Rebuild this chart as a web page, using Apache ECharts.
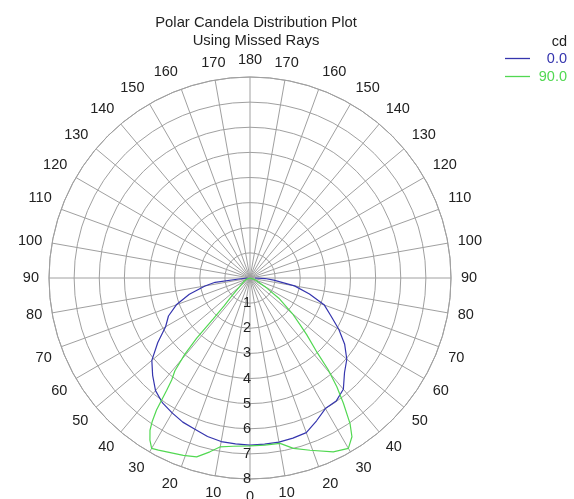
<!DOCTYPE html>
<html>
<head>
<meta charset="utf-8">
<script src="https://cdn.jsdelivr.net/npm/echarts@6/dist/echarts.min.js"></script>
<style>
  html, body { margin: 0; padding: 0; background: #fff; }
  #chart { width: 574px; height: 499px; }
</style>
</head>
<body>
<div id="chart"></div>
<script>
// Candela values (cd) against vertical angle gamma (deg, 0 = straight down)
// C0 / C180 plane ("0.0")
const gammaC0Left  = [90, 85, 83, 80, 75, 70, 65, 60, 55, 50, 45, 40, 35, 30, 25, 20, 15, 10, 5, 0];
const cdC0Left     = [0.1, 0.45, 1.4, 1.82, 2.5, 3.12, 3.58, 3.88, 4.48, 5.1, 5.48, 5.85, 6.07, 6.2, 6.33, 6.41, 6.53, 6.61, 6.63, 6.65];
const gammaC0Right = [0, 5, 10, 15, 20, 25, 30, 35, 40, 45, 50, 55, 60, 65, 70, 75, 80, 85, 88, 90];
const cdC0Right    = [6.65, 6.64, 6.63, 6.6, 6.55, 6.27, 6.0, 5.98, 5.78, 5.32, 5.03, 4.6, 4.08, 3.55, 3.15, 2.45, 1.8, 0.95, 0.6, 0.2];

// C90 / C270 plane ("90.0")
const gammaC90Left  = [90, 70, 60, 50, 45, 43, 42, 41.5, 40.5, 39, 37.5, 36.6, 35.3, 34.3, 33.3, 31.7, 30, 28, 25.6, 20.6, 16.6, 13, 10.1, 5.7, 0];
const cdC90Left     = [0, 0.15, 0.3, 0.55, 1.1, 1.5, 2.2, 3.2, 4.0, 4.75, 5.12, 5.56, 6.44, 6.9, 7.25, 7.58, 7.83, 7.76, 7.67, 7.54, 7.43, 7.1, 6.83, 6.73, 6.68];
const gammaC90Right = [0, 5, 10.3, 14.3, 19.2, 25.6, 30, 32.7, 34.5, 36.7, 38.6, 40.4, 42, 45, 47, 50, 55, 59, 70, 90];
const cdC90Right    = [6.68, 6.68, 6.69, 7.0, 7.26, 7.67, 7.83, 7.51, 7.03, 6.22, 5.54, 4.81, 4.0, 3.19, 2.72, 2.2, 1.4, 0.78, 0.25, 0];

// Ticks
const radiusTicks = [0, 1, 2, 3, 4, 5, 6, 7, 8];
const angleStep = 10;
const seriesNames = ['0.0', '90.0'];
const seriesColors = ['#3535ae', '#52d852'];

// Left half sits on angles 0..180 (clockwise from the bottom), right half on 360..180
function buildCurve(gL, vL, gR, vR) {
  const pts = [];
  for (let i = 0; i < gL.length; i++) pts.push([vL[i], gL[i]]);
  for (let i = 0; i < gR.length; i++) {
    if (gR[i] === 0) continue;
    pts.push([vR[i], 360 - gR[i]]);
  }
  return pts;
}

const curveC0 = buildCurve(gammaC0Left, cdC0Left, gammaC0Right, cdC0Right);
const curveC90 = buildCurve(gammaC90Left, cdC90Left, gammaC90Right, cdC90Right);

const gridColor = '#a0a0a0';
const font = 'Liberation Sans, Arial, sans-serif';

const chart = echarts.init(document.getElementById('chart'), null, { renderer: 'canvas' });
chart.setOption({
  animation: false,
  backgroundColor: '#fff',
  title: [
    {
      text: 'Polar Candela Distribution Plot\nUsing Missed Rays',
      left: 251, top: 9, textAlign: 'center',
      textStyle: { fontSize: 14.8, fontWeight: 'normal', color: '#222', fontFamily: font, lineHeight: 18 }
    },
    {
      text: 'cd',
      right: 2, top: 29,
      textStyle: { fontSize: 14.5, fontWeight: 'normal', color: '#222', fontFamily: font }
    }
  ],
  legend: {
    orient: 'vertical',
    right: 2, top: 46,
    icon: 'rect',
    itemWidth: 25, itemHeight: 1.3, itemGap: 3,
    data: seriesNames.map((n, i) => ({
      name: n,
      itemStyle: { color: seriesColors[i] },
      textStyle: { color: seriesColors[i] }
    })),
    formatter: name => '{r|' + name + '}',
    textStyle: {
      fontSize: 14.5, fontFamily: font,
      rich: { r: { width: 32, align: 'right', fontSize: 14.5, fontFamily: font, height: 14 } }
    }
  },
  polar: { center: [250, 278], radius: 201 },
  angleAxis: {
    type: 'value', min: 0, max: 360, interval: angleStep,
    startAngle: 270, clockwise: true,
    axisLine: { show: true, lineStyle: { color: gridColor, width: 1 } },
    axisTick: { show: false },
    splitLine: { show: true, lineStyle: { color: gridColor, width: 1 } },
    axisLabel: {
      margin: 10, fontSize: 14.5, color: '#222', fontFamily: font,
      formatter: v => (v >= 360 ? '' : String(v <= 180 ? v : 360 - v))
    }
  },
  radiusAxis: {
    type: 'value', min: radiusTicks[0], max: radiusTicks[radiusTicks.length - 1], interval: 1,
    axisLine: { show: false },
    axisTick: { show: false },
    splitLine: { show: true, lineStyle: { color: gridColor, width: 1 } },
    axisLabel: {
      margin: -7, fontSize: 14.5, color: '#222', fontFamily: font,
      formatter: v => (v === 0 ? '' : String(v))
    }
  },
  series: [
    {
      name: seriesNames[0], type: 'line', coordinateSystem: 'polar',
      data: curveC0, symbol: 'none', smooth: false,
      lineStyle: { color: seriesColors[0], width: 1.2 }, itemStyle: { color: seriesColors[0] }
    },
    {
      name: seriesNames[1], type: 'line', coordinateSystem: 'polar',
      data: curveC90, symbol: 'none', smooth: false,
      lineStyle: { color: seriesColors[1], width: 1.2 }, itemStyle: { color: seriesColors[1] }
    }
  ]
});
</script>
</body>
</html>
